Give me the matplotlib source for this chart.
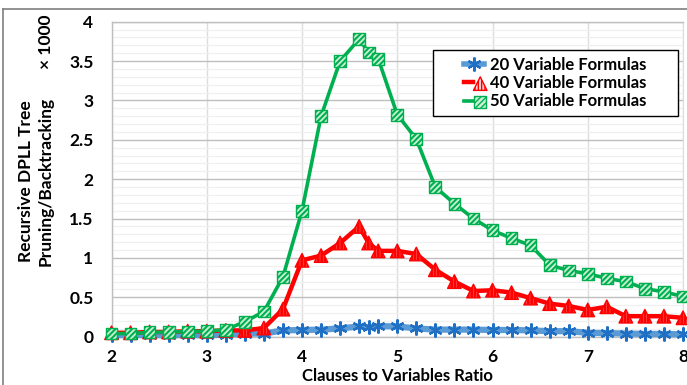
import matplotlib
matplotlib.use("Agg")
import matplotlib.pyplot as plt
from matplotlib.lines import Line2D
from matplotlib.patches import Rectangle
from matplotlib.legend_handler import HandlerTuple
import numpy as np

# Clauses-to-variables ratio sampled for each formula size
ratio = [2.0, 2.2, 2.4, 2.6, 2.8, 3.0, 3.2, 3.4, 3.6, 3.8, 4.0, 4.2, 4.4, 4.6, 4.7, 4.8,
         5.0, 5.2, 5.4, 5.6, 5.8, 6.0, 6.2, 6.4, 6.6, 6.8, 7.0, 7.2, 7.4, 7.6, 7.8, 8.0]

# Recursive DPLL pruning/backtracking counts (in thousands)
vars20 = [0.02, 0.02, 0.02, 0.02, 0.02, 0.02, 0.025, 0.04, 0.04, 0.08, 0.085, 0.09, 0.105, 0.13, 0.12, 0.135,
          0.13, 0.105, 0.09, 0.09, 0.09, 0.085, 0.085, 0.08, 0.07, 0.07, 0.05, 0.045, 0.04, 0.035, 0.035, 0.03]
vars40 = [0.05, 0.05, 0.06, 0.06, 0.07, 0.07, 0.08, 0.08, 0.11, 0.35, 0.97, 1.03, 1.19, 1.40, 1.19, 1.09,
          1.09, 1.05, 0.85, 0.70, 0.58, 0.59, 0.56, 0.49, 0.42, 0.39, 0.34, 0.38, 0.26, 0.26, 0.26, 0.24]
vars50 = [0.04, 0.04, 0.055, 0.06, 0.065, 0.07, 0.09, 0.19, 0.32, 0.76, 1.60, 2.80, 3.50, 3.78, 3.61, 3.53,
          2.82, 2.51, 1.90, 1.69, 1.50, 1.35, 1.25, 1.16, 0.91, 0.84, 0.80, 0.74, 0.70, 0.61, 0.57, 0.51]

series_labels = ["20 Variable Formulas", "40 Variable Formulas", "50 Variable Formulas"]
xticks = [2, 3, 4, 5, 6, 7, 8]
yticks = [0, 0.5, 1, 1.5, 2, 2.5, 3, 3.5, 4]
ytick_labels = ["0", "0.5", "1", "1.5", "2", "2.5", "3", "3.5", "4"]

plt.rcParams["font.family"] = ["Lato", "DejaVu Sans"]
plt.rcParams["font.weight"] = "bold"

W, H = 687, 385
fig = plt.figure(figsize=(W / 100, H / 100), dpi=100)
ax = fig.add_axes([111.5 / W, 1 - 336.7 / H, (683 - 111.5) / W, (336.7 - 21.7) / H])

ax.set_xlim(2, 8)
ax.set_ylim(0, 4)
ax.set_xticks(xticks)
ax.set_xticklabels([str(t) for t in xticks])
ax.set_yticks(yticks)
ax.set_yticklabels(ytick_labels)
ax.set_yticks(np.arange(0, 4.001, 0.1), minor=True)
ax.tick_params(which="both", length=0)
ax.tick_params(axis="x", pad=9, labelsize=12.5)
ax.tick_params(axis="y", pad=13, labelsize=12.5)

ax.grid(which="minor", axis="y", color="#F0F0F0", lw=0.9)
ax.grid(which="major", axis="y", color="#BFBFBF", lw=1.0)
ax.grid(which="major", axis="x", color="#DDDDDD", lw=1.0)
ax.set_axisbelow(True)
for side in ("left", "bottom", "top"):
    ax.spines[side].set_color("#BFBFBF")
    ax.spines[side].set_linewidth(1.0)
ax.spines["right"].set_color("#DDDDDD")

blue_line = "#5B9BD5"
blue_mark = "#1F6FC5"
red = "#FF0000"
green = "#00B050"

# 20-variable series: thick soft line with asterisk markers
ax.plot(ratio, vars20, color=blue_line, lw=4.5, zorder=3, solid_capstyle="round", clip_on=False)
ax.plot(ratio, vars20, ls="none", marker=(6, 2, 0), ms=10, mew=1.6, mec=blue_mark,
        zorder=3.5, clip_on=False)

# 40-variable series: red line with hatched triangles
ax.plot(ratio, vars40, color=red, lw=3.2, zorder=4, clip_on=False)
with plt.rc_context({"hatch.linewidth": 2.2}):
    m40 = ax.scatter(ratio, vars40, marker="^", s=95, facecolor="#FFD0D0", edgecolor=red,
                     hatch="|||||", lw=1.0, zorder=4.5, clip_on=False)

# 50-variable series: green line with hatched squares
ax.plot(ratio, vars50, color=green, lw=2.6, zorder=5, clip_on=False)
with plt.rc_context({"hatch.linewidth": 1.5}):
    m50 = ax.scatter(ratio, vars50, marker="s", s=72, facecolor="#C8F0D4", edgecolor=green,
                     hatch="//////", lw=1.0, zorder=5.5, clip_on=False)

# legend box
x0, x1 = (433 - 111.5) / 571.5, (678 - 111.5) / 571.5
y0, y1 = (336.7 - 116) / 315, (336.7 - 50) / 315
ax.add_patch(Rectangle((x0, y0), x1 - x0, y1 - y0, transform=ax.transAxes,
                       facecolor="white", edgecolor="black", lw=1.0, zorder=10))

h20_legend = Line2D([], [], color=blue_line, lw=4, marker=(6, 2, 0), ms=10, mew=1.6, mec=blue_mark)
l40 = Line2D([], [], color=red, lw=3.2)
l50 = Line2D([], [], color=green, lw=2.6)
leg = ax.legend([h20_legend, (l40, m40), (l50, m50)], series_labels,
                loc="center", bbox_to_anchor=((x0 + x1) / 2, (y0 + y1) / 2),
                frameon=False, fontsize=12, handlelength=1.2, handletextpad=0.35,
                labelspacing=0.15, borderpad=0.2, scatterpoints=1,
                handler_map={tuple: HandlerTuple(ndivide=None)})
leg.set_zorder(11)

# axis titles
fig.text(36 / W, 1 - 181 / H, "Recursive DPLL Tree\nPruning/Backtracking", rotation=90,
         ha="center", va="center", fontsize=12.5, fontweight="bold", linespacing=1.25)
fig.text(46 / W, 1 - 42 / H, "× 1000", rotation=90, ha="center", va="center",
         fontsize=12.5, fontweight="bold")
fig.text(397 / W, 1.0 / H, "Clauses to Variables Ratio", ha="center", va="bottom",
         fontsize=12, fontweight="bold")

# chart-area border
fig.add_artist(Line2D([3 / W, 1], [1 - 9 / H, 1 - 9 / H], transform=fig.transFigure,
                      color="#7F7F7F", lw=1.2))
fig.add_artist(Line2D([3 / W, 3 / W], [0, 1 - 9 / H], transform=fig.transFigure,
                      color="#7F7F7F", lw=1.2))

fig.savefig("out.png", dpi=100)
